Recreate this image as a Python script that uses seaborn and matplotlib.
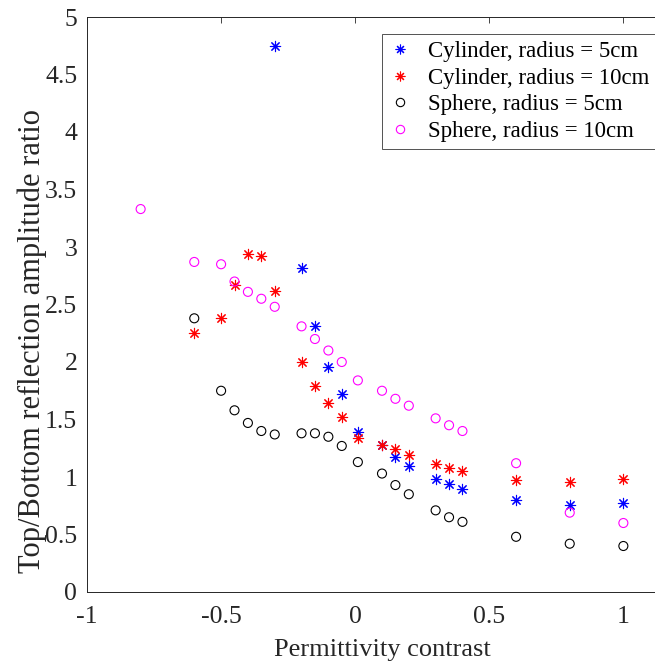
import matplotlib
matplotlib.use("Agg")
import matplotlib.pyplot as plt
from matplotlib.lines import Line2D
import seaborn as sns
import pandas as pd

# ---- data ----
x_cyl = [-0.30, -0.20, -0.15, -0.10, -0.05, 0.01, 0.10, 0.15, 0.20, 0.30, 0.35, 0.40, 0.60, 0.80, 1.00]
y_cyl5 = [4.75, 2.82, 2.31, 1.96, 1.72, 1.39, 1.28, 1.17, 1.10, 0.98, 0.94, 0.90, 0.80, 0.76, 0.77]

x_cyl10 = [-0.60, -0.50, -0.45, -0.40, -0.35, -0.30, -0.20, -0.15, -0.10, -0.05, 0.01, 0.10, 0.15, 0.20, 0.30, 0.35, 0.40, 0.60, 0.80, 1.00]
y_cyl10 = [2.25, 2.38, 2.67, 2.94, 2.92, 2.62, 2.00, 1.79, 1.64, 1.52, 1.34, 1.28, 1.24, 1.19, 1.11, 1.08, 1.05, 0.97, 0.96, 0.98]

x_sph5 = [-0.60, -0.50, -0.45, -0.40, -0.35, -0.30, -0.20, -0.15, -0.10, -0.05, 0.01, 0.10, 0.15, 0.20, 0.30, 0.35, 0.40, 0.60, 0.80, 1.00]
y_sph5 = [2.38, 1.75, 1.58, 1.47, 1.40, 1.37, 1.38, 1.38, 1.35, 1.27, 1.13, 1.03, 0.93, 0.85, 0.71, 0.65, 0.61, 0.48, 0.42, 0.40]

x_sph10 = [-0.80, -0.60, -0.50, -0.45, -0.40, -0.35, -0.30, -0.20, -0.15, -0.10, -0.05, 0.01, 0.10, 0.15, 0.20, 0.30, 0.35, 0.40, 0.60, 0.80, 1.00]
y_sph10 = [3.33, 2.87, 2.85, 2.70, 2.61, 2.55, 2.48, 2.31, 2.20, 2.10, 2.00, 1.84, 1.75, 1.68, 1.62, 1.51, 1.45, 1.40, 1.12, 0.69, 0.60]

labels = ["Cylinder, radius = 5cm", "Cylinder, radius = 10cm",
          "Sphere, radius = 5cm", "Sphere, radius = 10cm"]
x_ticks = [-1, -0.5, 0, 0.5, 1]
x_ticklabels = ["-1", "-0.5", "0", "0.5", "1"]
y_ticks = [0, 0.5, 1, 1.5, 2, 2.5, 3, 3.5, 4, 4.5, 5]
y_ticklabels = ["0", "0.5", "1", "1.5", "2", "2.5", "3", "3.5", "4", "4.5", "5"]

series = [
    (x_cyl, y_cyl5, labels[0]),
    (x_cyl10, y_cyl10, labels[1]),
    (x_sph5, y_sph5, labels[2]),
    (x_sph10, y_sph10, labels[3]),
]
df = pd.concat([pd.DataFrame({"x": xs, "y": ys, "series": lab}) for xs, ys, lab in series],
               ignore_index=True)

sns.set_style("white")
plt.rcParams["font.family"] = ["Liberation Serif", "DejaVu Serif"]

fig = plt.figure(figsize=(6.55, 6.66), dpi=100)
ax = fig.add_axes([87 / 655, (666 - 592) / 666, (677 - 87) / 655, (592 - 17) / 666])

styles = {
    labels[0]: dict(marker=(8, 2, 0), color="#0000ff", s=55, lw=0.8),
    labels[1]: dict(marker=(8, 2, 0), color="#ff0000", s=55, lw=0.8),
    labels[2]: dict(marker="o", color="#000000", s=42, lw=0.8),
    labels[3]: dict(marker="o", color="#ff00ff", s=42, lw=0.8),
}

for lab in labels:
    st = styles[lab]
    sub = df[df["series"] == lab]
    if st["marker"] == "o":
        sns.scatterplot(data=sub, x="x", y="y", ax=ax, marker="o", s=st["s"],
                        facecolor="none", edgecolor=st["color"], linewidth=st["lw"],
                        label=lab, legend=False)
    else:
        sns.scatterplot(data=sub, x="x", y="y", ax=ax, marker=st["marker"], s=st["s"],
                        color=st["color"], linewidth=st["lw"], label=lab, legend=False)

ax.set_xlim(-1, 1.2)
ax.set_ylim(0, 5)
ax.set_xticks(x_ticks)
ax.set_xticklabels(x_ticklabels)
ax.set_yticks(y_ticks)
ax.set_yticklabels(y_ticklabels)
ax.tick_params(direction="in", length=4, width=0.6, colors="#262626",
               labelsize=18.5, top=True, right=True)
ax.tick_params(axis="x", pad=10)
ax.tick_params(axis="y", pad=7)
for sp in ax.spines.values():
    sp.set_visible(True)
    sp.set_color("#262626")
    sp.set_linewidth(0.7)

ax.set_xlabel("Permittivity contrast", fontsize=19, color="#262626")
ax.set_ylabel("Top/Bottom reflection amplitude ratio", fontsize=22, color="#262626")
ax.xaxis.set_label_coords(0.5, (592 - 639) / 575)
ax.yaxis.set_label_coords((47 - 87) / 590, (592 - 341) / 575)

handles = []
for lab in labels:
    st = styles[lab]
    if st["marker"] == "o":
        handles.append(Line2D([], [], ls="none", marker="o", markersize=6,
                              markerfacecolor="none", markeredgecolor=st["color"], markeredgewidth=0.8))
    else:
        handles.append(Line2D([], [], ls="none", marker=st["marker"], markersize=7,
                              color=st["color"], markeredgewidth=0.8))
leg = ax.legend(handles, labels, loc="upper left",
                bbox_to_anchor=((382 - 87) / 590, (592 - 34) / 575),
                fontsize=16.5, frameon=True, fancybox=False, edgecolor="#262626",
                handlelength=1.0, handletextpad=0.7, borderpad=0.3, labelspacing=0.25,
                borderaxespad=0)
leg.get_frame().set_linewidth(0.7)
for t in leg.get_texts():
    t.set_color("#000000")

fig.savefig("out.png", dpi=100)
